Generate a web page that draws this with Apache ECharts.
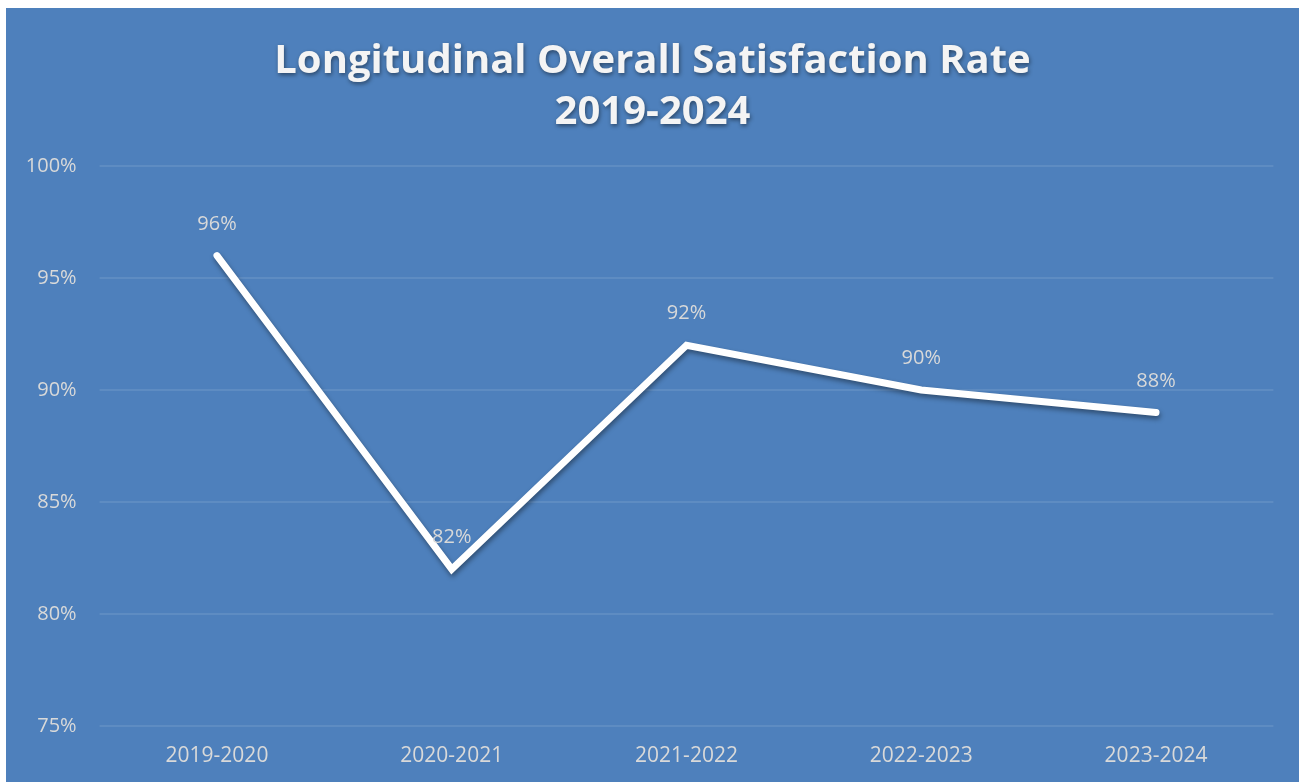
<!DOCTYPE html>
<html>
<head>
<meta charset="utf-8">
<script src="https://cdn.jsdelivr.net/npm/echarts@6/dist/echarts.min.js"></script>
<style>
html,body{margin:0;padding:0;background:#ffffff;width:1299px;height:782px;overflow:hidden;}
#chart{position:absolute;left:6px;top:8px;width:1293px;height:774px;}
</style>
</head>
<body>
<div id="chart"></div>
<script>
const titleText = "Longitudinal Overall Satisfaction Rate\n2019-2024";
const categories = ["2019-2020", "2020-2021", "2021-2022", "2022-2023", "2023-2024"];
const values = [96, 82, 92, 90, 89];
const valueLabels = ["96%", "82%", "92%", "90%", "88%"];
const yTicks = { min: 75, max: 100, interval: 5 };

const chart = echarts.init(document.getElementById('chart'), null, { renderer: 'canvas' });
chart.setOption({
  backgroundColor: '#4e80bc',
  animation: false,
  title: {
    text: titleText,
    left: 'center',
    top: 23,
    textStyle: {
      fontFamily: 'Open Sans',
      fontWeight: 'bold',
      fontSize: 40,
      lineHeight: 51,
      color: '#f4f4f4',
      textShadowColor: 'rgba(0,0,0,0.45)',
      textShadowBlur: 4,
      textShadowOffsetX: 1,
      textShadowOffsetY: 2
    }
  },
  grid: { left: 93.6, right: 25.6, top: 158, bottom: 56, containLabel: false },
  xAxis: {
    type: 'category',
    data: categories,
    boundaryGap: true,
    axisLine: { show: false },
    axisTick: { show: false },
    axisLabel: { color: '#d9d9d9', fontFamily: 'Open Sans', fontSize: 21, margin: 20 }
  },
  yAxis: {
    type: 'value',
    min: yTicks.min,
    max: yTicks.max,
    interval: yTicks.interval,
    axisLine: { show: false },
    axisTick: { show: false },
    axisLabel: { color: '#d9d9d9', fontFamily: 'Open Sans', fontSize: 20, margin: 23, formatter: v => v + '%' },
    splitLine: { show: true, lineStyle: { color: 'rgba(255,255,255,0.13)', width: 1.5 } }
  },
  series: [{
    type: 'line',
    data: values,
    showSymbol: true,
    symbol: 'circle',
    symbolSize: 1,
    itemStyle: { color: 'rgba(255,255,255,0)' },
    lineStyle: {
      color: '#ffffff', width: 7, cap: 'round', join: 'miter',
      shadowColor: 'rgba(0,0,0,0.4)', shadowBlur: 5, shadowOffsetX: 1, shadowOffsetY: 3
    },
    label: {
      show: true,
      position: 'top',
      distance: 21,
      color: '#d9d9d9',
      fontFamily: 'Open Sans',
      fontSize: 20,
      formatter: p => valueLabels[p.dataIndex]
    }
  }]
});
</script>
</body>
</html>
